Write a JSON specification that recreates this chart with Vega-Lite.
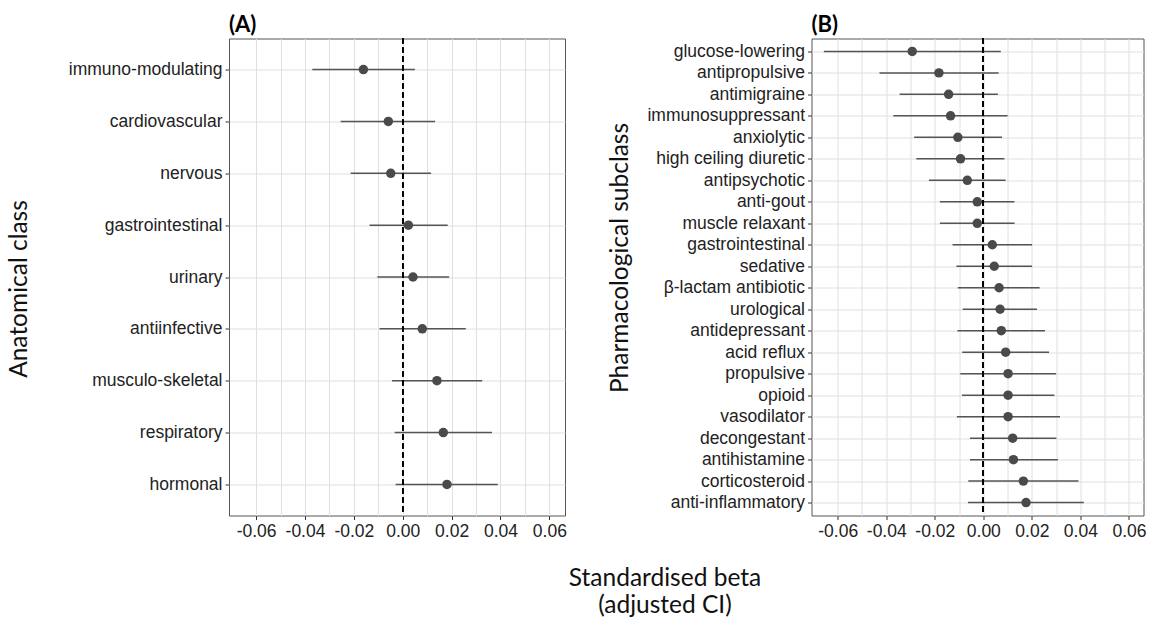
{
  "$schema": "https://vega.github.io/schema/vega-lite/v6.json",
  "padding": {"left": 6, "top": 12.5, "right": 5, "bottom": 5},
  "background": "#ffffff",
  "bounds": "flush",
  "spacing": 246.5,
  "title": {
    "text": ["Standardised beta", "(adjusted CI)"],
    "orient": "bottom",
    "anchor": "middle",
    "frame": "group",
    "font": "Lato",
    "fontSize": 24.5,
    "fontWeight": "normal",
    "color": "#111111",
    "lineHeight": 27,
    "offset": 26,
    "dx": 436
  },
  "config": {
    "font": "Liberation Sans, Arial, sans-serif",
    "view": {"stroke": "#555555", "strokeWidth": 1},
    "axis": {
      "labelFont": "Liberation Sans, Arial, sans-serif",
      "labelFontSize": 17.5,
      "labelColor": "#222222",
      "tickColor": "#333333",
      "tickSize": 4,
      "labelPadding": 3,
      "gridColor": "#e0e0e0",
      "gridOpacity": 1,
      "gridWidth": 1,
      "domain": false,
      "titleFont": "Lato",
      "titleFontSize": 24.5,
      "titleFontWeight": "normal",
      "titleColor": "#111111"
    }
  },
  "hconcat": [
    {
      "width": 336,
      "height": 477,
      "title": {"text": "(A)", "anchor": "start", "frame": "group", "font": "Lato", "fontSize": 22, "fontWeight": "bold", "color": "#000000", "offset": 1},
      "data": {
        "values": [
          {"cls": "immuno-modulating", "beta": -0.0161, "lo": -0.037, "hi": 0.005},
          {"cls": "cardiovascular", "beta": -0.0059, "lo": -0.0254, "hi": 0.0132},
          {"cls": "nervous", "beta": -0.0049, "lo": -0.0213, "hi": 0.0116},
          {"cls": "gastrointestinal", "beta": 0.0023, "lo": -0.0136, "hi": 0.0184},
          {"cls": "urinary", "beta": 0.0042, "lo": -0.0104, "hi": 0.019},
          {"cls": "antiinfective", "beta": 0.008, "lo": -0.0095, "hi": 0.0258},
          {"cls": "musculo-skeletal", "beta": 0.014, "lo": -0.0044, "hi": 0.0325},
          {"cls": "respiratory", "beta": 0.0166, "lo": -0.0033, "hi": 0.0365},
          {"cls": "hormonal", "beta": 0.0181, "lo": -0.0029, "hi": 0.0389}
        ]
      },
      "resolve": {"axis": {"x": "independent"}},
      "layer": [
        {
          "mark": {"type": "rule", "color": "#555555", "strokeWidth": 1.5},
          "encoding": {
            "y": {"field": "cls", "type": "nominal", "sort": null, "scale": {"type": "point", "padding": 0.6},
              "axis": {"title": "Anatomical class", "grid": true, "titleX": -197.5, "titleY": 250, "titleAngle": 270}},
            "x": {"field": "lo", "type": "quantitative",
              "scale": {"domain": [-0.0711, 0.0664], "nice": false, "zero": false},
              "axis": {"title": null, "orient": "bottom", "grid": false,
                "values": [-0.06, -0.04, -0.02, 0, 0.02, 0.04, 0.06],
                "labelExpr": "(datum.value < -0.0001 ? '-' : '') + format(abs(datum.value), '.2f')"}},
            "x2": {"field": "hi"}
          }
        },
        {
          "mark": {"type": "rule", "color": "#000000", "strokeWidth": 1.3, "strokeDash": [5, 4]},
          "encoding": {"x": {"datum": 0, "type": "quantitative",
            "axis": {"title": null, "orient": "bottom", "grid": true, "labels": false, "ticks": false, "domain": false,
              "values": [-0.06, -0.05, -0.04, -0.03, -0.02, -0.01, 0, 0.01, 0.02, 0.03, 0.04, 0.05, 0.06]}}}
        },
        {
          "mark": {"type": "point", "filled": true, "size": 90, "color": "#4a4a4a", "opacity": 1},
          "encoding": {
            "y": {"field": "cls", "type": "nominal", "sort": null},
            "x": {"field": "beta", "type": "quantitative", "axis": null}
          }
        }
      ]
    },
    {
      "width": 332,
      "height": 477,
      "title": {"text": "(B)", "anchor": "start", "frame": "group", "font": "Lato", "fontSize": 22, "fontWeight": "bold", "color": "#000000", "offset": 1},
      "data": {
        "values": [
          {"cls": "glucose-lowering", "beta": -0.0293, "lo": -0.0657, "hi": 0.0072},
          {"cls": "antipropulsive", "beta": -0.0183, "lo": -0.0428, "hi": 0.0063},
          {"cls": "antimigraine", "beta": -0.0143, "lo": -0.0345, "hi": 0.006},
          {"cls": "immunosuppressant", "beta": -0.0135, "lo": -0.0371, "hi": 0.01},
          {"cls": "anxiolytic", "beta": -0.0105, "lo": -0.0285, "hi": 0.0077},
          {"cls": "high ceiling diuretic", "beta": -0.0094, "lo": -0.0276, "hi": 0.0087},
          {"cls": "antipsychotic", "beta": -0.0066, "lo": -0.0224, "hi": 0.0092},
          {"cls": "anti-gout", "beta": -0.0025, "lo": -0.0179, "hi": 0.0128},
          {"cls": "muscle relaxant", "beta": -0.0025, "lo": -0.0179, "hi": 0.0129},
          {"cls": "gastrointestinal", "beta": 0.0037, "lo": -0.0127, "hi": 0.0201},
          {"cls": "sedative", "beta": 0.0045, "lo": -0.0111, "hi": 0.0201},
          {"cls": "β-lactam antibiotic", "beta": 0.0065, "lo": -0.0105, "hi": 0.0232},
          {"cls": "urological", "beta": 0.0069, "lo": -0.0085, "hi": 0.0221},
          {"cls": "antidepressant", "beta": 0.0074, "lo": -0.0107, "hi": 0.0254},
          {"cls": "acid reflux", "beta": 0.0092, "lo": -0.0087, "hi": 0.0271},
          {"cls": "propulsive", "beta": 0.0102, "lo": -0.0095, "hi": 0.03},
          {"cls": "opioid", "beta": 0.0102, "lo": -0.0088, "hi": 0.0293},
          {"cls": "vasodilator", "beta": 0.0102, "lo": -0.0109, "hi": 0.0316},
          {"cls": "decongestant", "beta": 0.0121, "lo": -0.0055, "hi": 0.0301},
          {"cls": "antihistamine", "beta": 0.0124, "lo": -0.0055, "hi": 0.0307},
          {"cls": "corticosteroid", "beta": 0.0165, "lo": -0.0062, "hi": 0.0392},
          {"cls": "anti-inflammatory", "beta": 0.0176, "lo": -0.0063, "hi": 0.0414}
        ]
      },
      "resolve": {"axis": {"x": "independent"}},
      "layer": [
        {
          "mark": {"type": "rule", "color": "#555555", "strokeWidth": 1.5},
          "encoding": {
            "y": {"field": "cls", "type": "nominal", "sort": null, "scale": {"type": "point", "padding": 0.6},
              "axis": {"title": "Pharmacological subclass", "grid": true, "titleX": -179, "titleY": 219, "titleAngle": 270}},
            "x": {"field": "lo", "type": "quantitative",
              "scale": {"domain": [-0.0708, 0.066], "nice": false, "zero": false},
              "axis": {"title": null, "orient": "bottom", "grid": false,
                "values": [-0.06, -0.04, -0.02, 0, 0.02, 0.04, 0.06],
                "labelExpr": "(datum.value < -0.0001 ? '-' : '') + format(abs(datum.value), '.2f')"}},
            "x2": {"field": "hi"}
          }
        },
        {
          "mark": {"type": "rule", "color": "#000000", "strokeWidth": 1.3, "strokeDash": [5, 4]},
          "encoding": {"x": {"datum": 0, "type": "quantitative",
            "axis": {"title": null, "orient": "bottom", "grid": true, "labels": false, "ticks": false, "domain": false,
              "values": [-0.06, -0.05, -0.04, -0.03, -0.02, -0.01, 0, 0.01, 0.02, 0.03, 0.04, 0.05, 0.06]}}}
        },
        {
          "mark": {"type": "point", "filled": true, "size": 90, "color": "#4a4a4a", "opacity": 1},
          "encoding": {
            "y": {"field": "cls", "type": "nominal", "sort": null},
            "x": {"field": "beta", "type": "quantitative", "axis": null}
          }
        }
      ]
    }
  ]
}
